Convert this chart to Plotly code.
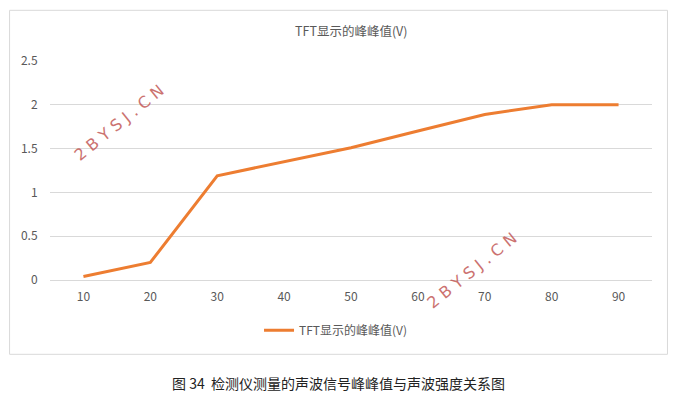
import plotly.graph_objects as go

# data
categories = ["10", "20", "30", "40", "50", "60", "70", "80", "90"]
peak_values = [0.04, 0.20, 1.19, 1.35, 1.51, 1.70, 1.89, 2.00, 2.00]
series_name = "TFT显示的峰峰值(V)"
chart_title = "TFT显示的峰峰值(V)"
caption = "图 34  检测仪测量的声波信号峰峰值与声波强度关系图"
watermark = "2 B Y S J . C N"

font_family = "Noto Sans CJK SC, Noto Sans, sans-serif"
grey = "#595959"

fig = go.Figure()
fig.add_trace(go.Scatter(
    x=categories,
    y=peak_values,
    mode="lines",
    name=series_name,
    line=dict(color="#ED7D31", width=3),
))

# page body adds an 8px offset; plot area on screen spans px 49.5..652.5, 60.7..279.7
def px_x(px):
    return (px - 49.5) / 603.0

def px_y(py):
    return (279.7 - py) / 219.0

fig.update_layout(
    width=671,
    height=399,
    margin=dict(l=41.5, r=26.5, t=52.7, b=127.3),
    paper_bgcolor="white",
    plot_bgcolor="white",
    font=dict(family=font_family, size=11, color=grey),
    showlegend=True,
    legend=dict(
        orientation="h",
        x=px_x(336), xanchor="center",
        y=px_y(330), yanchor="middle",
        font=dict(size=12, color=grey),
        bgcolor="rgba(0,0,0,0)",
        itemwidth=30,
    ),
    xaxis=dict(
        type="category",
        range=[-0.5, 8.5],
        showgrid=False,
        showline=True,
        linecolor="#d9d9d9",
        linewidth=1,
        ticks="",
        ticklabelstandoff=6,
        automargin=False,
        tickfont=dict(size=12, color=grey),
        fixedrange=True,
    ),
    yaxis=dict(
        range=[0, 2.5],
        dtick=0.5,
        showgrid=True,
        gridcolor="#d9d9d9",
        gridwidth=1,
        zeroline=False,
        showline=False,
        # invisible ticks push the labels away from the plot edge
        ticks="outside",
        ticklen=9,
        tickcolor="rgba(0,0,0,0)",
        automargin=False,
        tickformat="~g",
        tickfont=dict(size=12, color=grey),
        fixedrange=True,
    ),
    shapes=[
        dict(
            type="rect", xref="paper", yref="paper",
            x0=px_x(9), x1=px_x(668), y0=px_y(354), y1=px_y(10),
            line=dict(color="#d9d9d9", width=1),
            fillcolor="rgba(0,0,0,0)", layer="below",
        )
    ],
    annotations=[
        dict(
            text=chart_title, xref="paper", yref="paper",
            x=0.5, y=px_y(30), xanchor="center", yanchor="middle",
            showarrow=False, font=dict(size=12.5, color=grey),
        ),
        dict(
            text=caption, xref="paper", yref="paper",
            x=px_x(338), y=px_y(383), xanchor="center", yanchor="middle",
            showarrow=False, font=dict(size=14, color="#222222"),
        ),
        dict(
            text=watermark, xref="paper", yref="paper",
            x=px_x(119), y=px_y(122), xanchor="center", yanchor="middle",
            textangle=-39, showarrow=False,
            font=dict(size=16, color="#c0504d", family="DejaVu Sans"),
            opacity=0.8,
        ),
        dict(
            text=watermark, xref="paper", yref="paper",
            x=px_x(472), y=px_y(270), xanchor="center", yanchor="middle",
            textangle=-39, showarrow=False,
            font=dict(size=16, color="#c0504d", family="DejaVu Sans"),
            opacity=0.8,
        ),
    ],
)

fig.write_html("out.html", config={"displayModeBar": False})
